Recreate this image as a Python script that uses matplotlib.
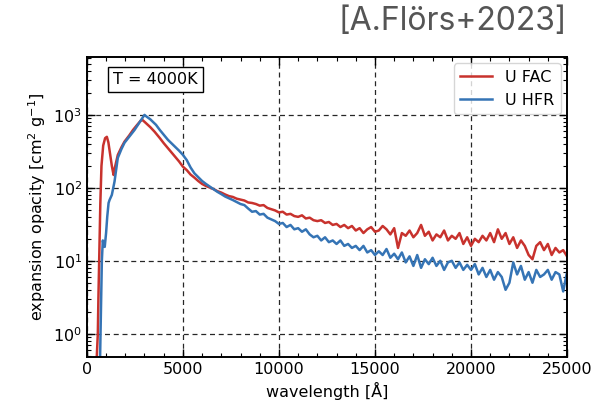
import matplotlib

matplotlib.use("Agg")
import matplotlib.pyplot as plt
from matplotlib.ticker import LogLocator, MultipleLocator, NullFormatter


# U FAC (red) - rising edge and first peaks
FAC_WAVE_EARLY = [480, 520, 570, 600, 640, 700, 760, 850, 950, 1040, 1120, 1200, 1300, 1390,
                  1450, 1610, 1800, 1960, 2200, 2400, 2600, 2800, 2900, 3100, 3300, 3520,
                  3800, 4000, 4220, 4500, 4800]
FAC_OPAC_EARLY = [0.3, 0.5, 1.0, 3, 10, 60, 200, 380, 480, 500, 420, 300, 200, 150,
                  185, 282, 360, 430, 520, 620, 720, 830, 850, 760, 680, 590,
                  480, 410, 350, 285, 230]

# U HFR (blue) - rising edge and peak
HFR_WAVE_EARLY = [640, 690, 710, 780, 830, 880, 930, 1000, 1060, 1130, 1180, 1300, 1440,
                  1610, 1800, 1960, 2200, 2480, 2700, 3000, 3100, 3300, 3600, 3800, 4220,
                  4500, 4800]
HFR_OPAC_EARLY = [0.2, 0.5, 1.0, 10, 19, 16, 15.5, 24, 40, 62, 68, 80, 122,
                  257, 340, 415, 500, 620, 760, 1000, 950, 870, 730, 620, 455,
                  385, 323]

# common tail grid (Angstrom)
TAIL_WAVE = [
    5000, 5200, 5400, 5600, 5800, 6000, 6200, 6400, 6600, 6800,
    7000, 7200, 7400, 7600, 7800, 8000, 8200, 8400, 8600, 8800,
    9000, 9200, 9400, 9600, 9800, 10000, 10200, 10400, 10600, 10800,
    11000, 11200, 11400, 11600, 11800, 12000, 12200, 12400, 12600, 12800,
    13000, 13200, 13400, 13600, 13800, 14000, 14200, 14400, 14600, 14800,
    15000, 15200, 15400, 15600, 15800, 16000, 16200, 16400, 16600, 16800,
    17000, 17200, 17400, 17600, 17800, 18000, 18200, 18400, 18600, 18800,
    19000, 19200, 19400, 19600, 19800, 20000, 20200, 20400, 20600, 20800,
    21000, 21200, 21400, 21600, 21800, 22000, 22200, 22400, 22600, 22800,
    23000, 23200, 23400, 23600, 23800, 24000, 24200, 24400, 24600, 24800,
    25000,
]
FAC_OPAC_TAIL = [
    195, 175, 152, 138, 124, 113, 106, 101, 96, 90,
    86, 81, 77, 75, 71, 69, 67, 63, 62, 60,
    57, 58, 53, 51, 49, 46, 47, 43, 44, 41,
    40, 42, 38, 39, 36, 35, 36, 33, 34, 31,
    32, 29, 31, 28, 30, 26, 28, 24, 27, 29,
    25, 26, 30, 27, 23, 28, 15, 24, 22, 26,
    21, 24, 31, 22, 25, 19, 23, 21, 26, 19,
    22, 20, 24, 17, 21, 16, 20, 18, 22, 19,
    24, 18, 27, 20, 24, 17, 21, 15, 19, 16,
    12, 10.5, 16, 18, 14, 17, 12, 15, 13, 14,
    11.5,
]
HFR_OPAC_TAIL = [
    283, 240, 190, 158, 140, 124, 113, 104, 96, 88,
    82, 76, 72, 68, 64, 60, 58, 52, 47, 48,
    43, 44, 39, 37, 35, 32, 33, 29, 31, 27,
    28, 25, 27, 23, 21, 22, 19, 21, 18, 19,
    17, 19, 16, 17, 15, 16, 14, 16, 13, 14,
    12, 13.5, 12, 14.5, 11, 12.5, 10.5, 13, 9.5, 11.5,
    8.5, 12, 8, 10.5, 9, 11, 8.5, 10, 7.5, 9.5,
    10, 8, 9.5, 7.5, 8.8, 7.5, 9, 6.5, 8, 6,
    7.5, 5.5, 7, 6, 4, 5, 9.5, 6.5, 8.5, 5.5,
    7, 5, 7.5, 6, 6.5, 7.5, 5.5, 7, 6.5, 3.8,
    7,
]

SERIES_LABELS = ["U FAC", "U HFR"]
SERIES_COLORS = ["#c8322d", "#3574b5"]


def main() -> None:
    fig = plt.figure(figsize=(5.95, 4.12), dpi=100)
    ax = fig.add_axes([0.146, 0.1335, 0.807, 0.728])

    ax.plot(FAC_WAVE_EARLY + TAIL_WAVE, FAC_OPAC_EARLY + FAC_OPAC_TAIL,
            color=SERIES_COLORS[0], linewidth=1.8, label=SERIES_LABELS[0])
    ax.plot(HFR_WAVE_EARLY + TAIL_WAVE, HFR_OPAC_EARLY + HFR_OPAC_TAIL,
            color=SERIES_COLORS[1], linewidth=1.8, label=SERIES_LABELS[1])

    ax.set_yscale("log")
    ax.set_xlim(0, 25000)
    ax.set_ylim(0.48, 6200)
    ax.xaxis.set_major_locator(MultipleLocator(5000))
    ax.xaxis.set_minor_locator(MultipleLocator(1000))
    ax.yaxis.set_major_locator(LogLocator(base=10, numticks=10))
    ax.yaxis.set_minor_locator(LogLocator(base=10, subs=range(2, 10), numticks=20))
    ax.yaxis.set_minor_formatter(NullFormatter())

    ax.tick_params(which="both", direction="in", top=True, right=True, labelsize=11.5)
    ax.tick_params(which="major", length=6, width=1.0)
    ax.tick_params(which="minor", length=3, width=0.8)
    for spine in ax.spines.values():
        spine.set_linewidth(1.4)
    ax.grid(True, which="major", color="black", linestyle=(0, (4, 3)), linewidth=0.9, alpha=0.85)

    ax.set_xlabel("wavelength [Å]", fontsize=11.5)
    ax.set_ylabel("expansion opacity [cm$^2$ g$^{-1}$]", fontsize=11.5)

    ax.text(0.055, 0.925, "T = 4000K", transform=ax.transAxes, fontsize=11.5,
            va="center", ha="left",
            bbox=dict(boxstyle="square,pad=0.3", facecolor="white", edgecolor="black", linewidth=1.0))

    ax.legend(loc="upper right", fontsize=11.5, handlelength=2.0, framealpha=0.8,
              borderaxespad=0.4)

    fig.text(0.953, 0.985, "[A.Flörs+2023]", ha="right", va="top", fontsize=23,
             color="#555555", family=["Inter", "DejaVu Sans"])

    fig.savefig("out.png", dpi=100)
    plt.close(fig)


if __name__ == "__main__":
    main()
